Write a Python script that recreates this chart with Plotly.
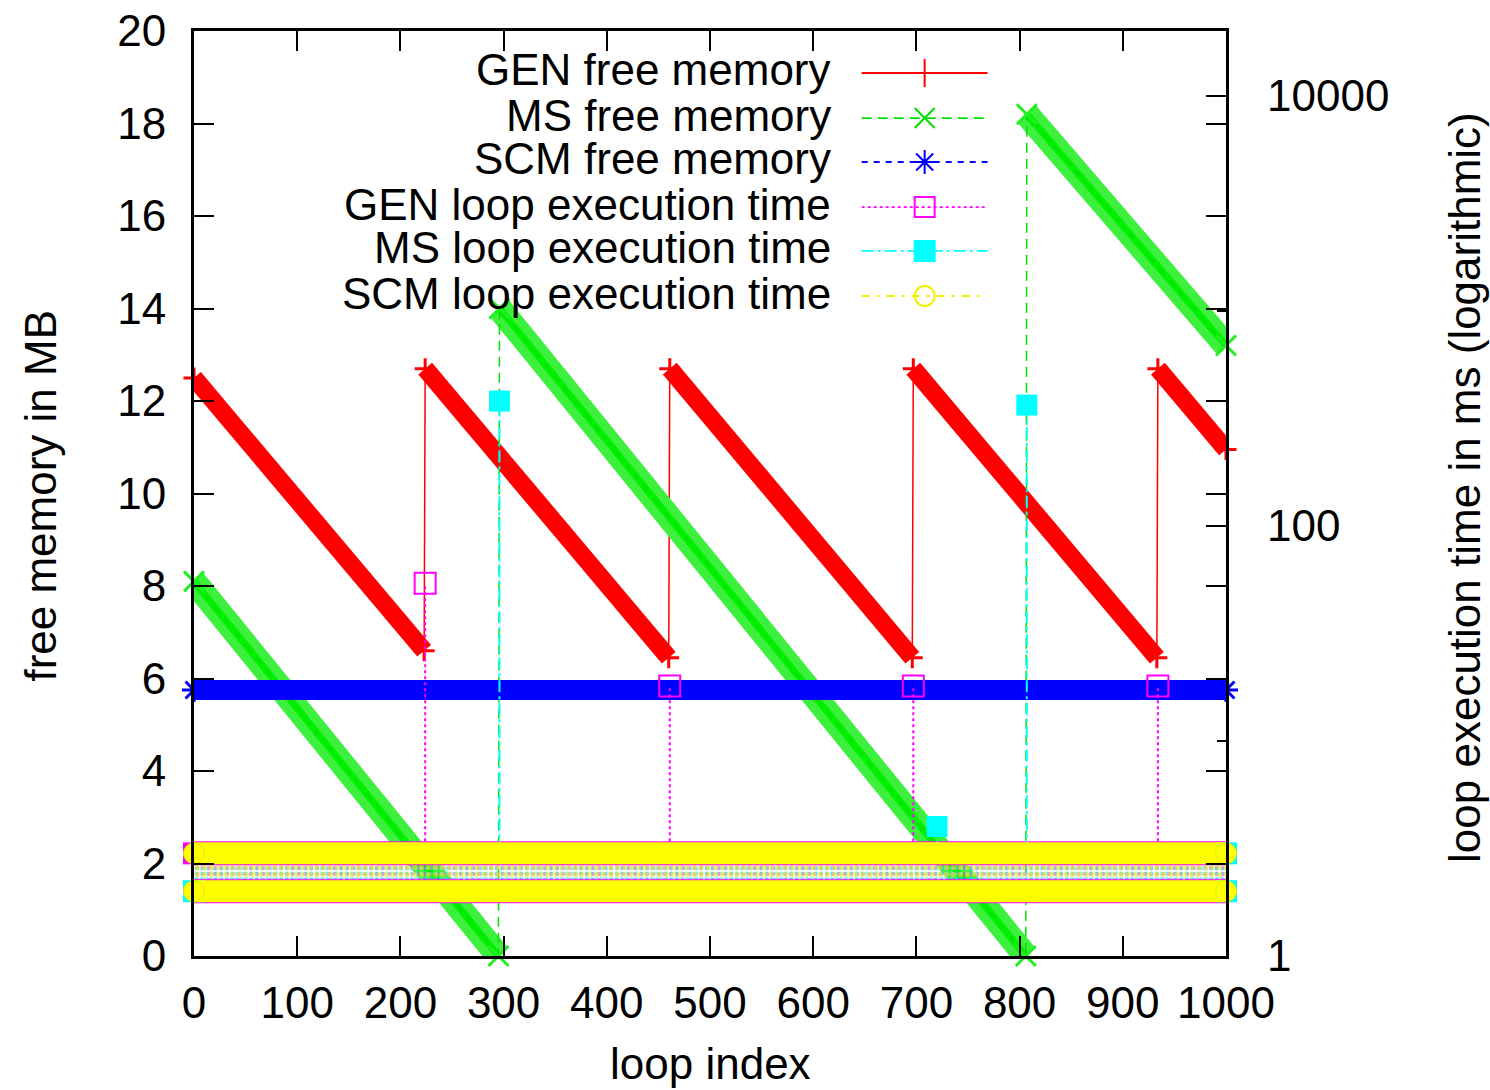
import plotly.graph_objects as go

# ---------------- data ----------------
loop_range = [0, 1000]

# free memory (MB): sawtooth segments given as (start, end) pairs
gen_mem_x = [0, 223, 224, 460, 461, 696, 697, 933, 934, 1000]
gen_mem_y = [12.5, 6.6, 12.7, 6.45, 12.7, 6.45, 12.7, 6.45, 12.7, 10.95]

ms_mem_x = [0, 295, 296, 806, 807, 1000]
ms_mem_y = [8.1, 0.0, 14.0, 0.0, 18.2, 13.2]

scm_mem_x = [0, 1000]
scm_mem_y = [5.75, 5.75]

# loop execution time (ms): baseline levels and spikes
time_levels = [3, 2]
gen_spike_x = [224, 461, 697, 934]
gen_spike_y = [54, 18, 18, 18]
ms_spike_x = [296, 720, 807]
ms_spike_y = [380, 4, 364]

legend_names = ["GEN free memory", "MS free memory", "SCM free memory",
                "GEN loop execution time", "MS loop execution time",
                "SCM loop execution time"]

x_ticks = [0, 100, 200, 300, 400, 500, 600, 700, 800, 900, 1000]
y_ticks = [0, 2, 4, 6, 8, 10, 12, 14, 16, 18, 20]
y2_major = [1, 100, 10000]
y2_minor = [10, 1000]

# ---------------- helpers ----------------
FONT = "Liberation Sans, Arial, Helvetica, sans-serif"
FS = 44
RED, GREEN, BLUE = "#ff0000", "#00ee00", "#0000ff"
MAG, CYAN, YEL = "#ff00ff", "#00ffff", "#ffff00"


def segments(xs, ys):
    """insert gaps between consecutive (start, end) pairs"""
    ox, oy = [], []
    for i in range(0, len(xs), 2):
        ox += [xs[i], xs[i + 1], None]
        oy += [ys[i], ys[i + 1], None]
    return ox, oy


def spikes(xs, ys, base):
    ox, oy = [], []
    for x, y in zip(xs, ys):
        ox += [x, x, None]
        oy += [base, y, None]
    return ox, oy


def levels(lv):
    ox, oy = [], []
    for v in lv:
        ox += [loop_range[0], loop_range[1], None]
        oy += [v, v, None]
    return ox, oy


fig = go.Figure()

# ---------- memory series (left axis) ----------
# GEN (red)
bx, by = segments(gen_mem_x, gen_mem_y)
fig.add_trace(go.Scatter(x=bx, y=by, mode="lines", line=dict(color=RED, width=18),
                         showlegend=False, hoverinfo="skip"))
fig.add_trace(go.Scatter(x=gen_mem_x, y=gen_mem_y, mode="lines+markers",
                         line=dict(color=RED, width=1.5),
                         marker=dict(symbol="cross-thin", size=15, line=dict(color=RED, width=3)),
                         cliponaxis=False, showlegend=False))
# MS (green)
bx, by = segments(ms_mem_x, ms_mem_y)
fig.add_trace(go.Scatter(x=bx, y=by, mode="lines", line=dict(color="#3df03d", width=25),
                         showlegend=False, hoverinfo="skip"))
fig.add_trace(go.Scatter(x=bx, y=by, mode="lines", line=dict(color="#00f000", width=7),
                         showlegend=False, hoverinfo="skip"))
fig.add_trace(go.Scatter(x=ms_mem_x, y=ms_mem_y, mode="lines+markers",
                         line=dict(color="#00e000", width=1.5, dash="10px,6px"),
                         marker=dict(symbol="x-thin", size=20, line=dict(color="#20f020", width=3)),
                         cliponaxis=False, showlegend=False))
# SCM (blue)
fig.add_trace(go.Scatter(x=scm_mem_x, y=scm_mem_y, mode="lines", line=dict(color=BLUE, width=20),
                         showlegend=False, hoverinfo="skip"))
fig.add_trace(go.Scatter(x=scm_mem_x, y=scm_mem_y, mode="markers",
                         marker=dict(symbol="asterisk", size=20, line=dict(color=BLUE, width=3)),
                         cliponaxis=False, showlegend=False))

# ---------- loop execution time (right, log axis) ----------
lx, ly = levels(time_levels)
poly_x = [loop_range[0], loop_range[1], loop_range[1], loop_range[0]]
poly_y = [time_levels[0], time_levels[0], time_levels[1], time_levels[1]]
for col, shape, size, sol in [(MAG, ".", 6, 0.45), (CYAN, ".", 5, 0.45), (YEL, ".", 7, 0.5)]:
    fig.add_trace(go.Scatter(x=poly_x, y=poly_y, yaxis="y2", mode="none", fill="toself",
                             fillcolor="rgba(0,0,0,0)",
                             fillpattern=dict(shape=shape, fgcolor=col, bgcolor="rgba(0,0,0,0)",
                                              size=size, solidity=sol, fillmode="overlay"),
                             showlegend=False, hoverinfo="skip"))
# GEN time
fig.add_trace(go.Scatter(x=lx, y=ly, yaxis="y2", mode="lines", line=dict(color=MAG, width=24),
                         showlegend=False, hoverinfo="skip"))
fig.add_trace(go.Scatter(x=[loop_range[0]], y=[time_levels[0]], yaxis="y2", mode="markers",
                         marker=dict(symbol="square", size=22, color=MAG),
                         cliponaxis=False, showlegend=False, hoverinfo="skip"))
sx, sy = spikes(gen_spike_x, gen_spike_y, time_levels[0])
fig.add_trace(go.Scatter(x=sx, y=sy, yaxis="y2", mode="lines",
                         line=dict(color=MAG, width=2, dash="3px,3px"), showlegend=False))
fig.add_trace(go.Scatter(x=gen_spike_x, y=gen_spike_y, yaxis="y2", mode="markers",
                         marker=dict(symbol="square-open", size=21, color=MAG,
                                     line=dict(color=MAG, width=2)),
                         cliponaxis=False, showlegend=False))
# MS time
fig.add_trace(go.Scatter(x=[loop_range[0], loop_range[1], loop_range[1]],
                         y=[time_levels[1], time_levels[0], time_levels[1]], yaxis="y2",
                         mode="markers", marker=dict(symbol="square", size=22, color=CYAN),
                         cliponaxis=False, showlegend=False, hoverinfo="skip"))
sx, sy = spikes(ms_spike_x, ms_spike_y, time_levels[0])
fig.add_trace(go.Scatter(x=sx, y=sy, yaxis="y2", mode="lines",
                         line=dict(color=CYAN, width=2, dash="12px,4px,3px,4px"), showlegend=False))
fig.add_trace(go.Scatter(x=ms_spike_x, y=ms_spike_y, yaxis="y2", mode="markers",
                         marker=dict(symbol="square", size=21, color=CYAN),
                         cliponaxis=False, showlegend=False))
# SCM time (yellow, on top)
fig.add_trace(go.Scatter(x=lx, y=ly, yaxis="y2", mode="lines", line=dict(color=YEL, width=22),
                         showlegend=False, hoverinfo="skip"))
fig.add_trace(go.Scatter(x=[loop_range[0], loop_range[0], loop_range[1], loop_range[1]],
                         y=time_levels + time_levels, yaxis="y2", mode="markers",
                         marker=dict(symbol="circle", size=21, color=YEL,
                                     line=dict(color="#e8e800", width=1)),
                         cliponaxis=False, showlegend=False, hoverinfo="skip"))

# ---------- custom gnuplot-style key (overlay axes x3/y3, range 0..1) ----------
row_y = [0.9546, 0.9059, 0.8584, 0.8097, 0.7622, 0.7135]
key_styles = [
    dict(color=RED, dash="solid", sym="cross-thin", size=20),
    dict(color="#00e000", dash="10px,6px", sym="x-thin", size=20),
    dict(color=BLUE, dash="6px,6px", sym="asterisk", size=20),
    dict(color=MAG, dash="3px,3px", sym="square-open", size=20),
    dict(color=CYAN, dash="12px,4px,3px,4px", sym="square", size=20),
    dict(color="#f0f000", dash="8px,7px,3px,7px", sym="circle-open", size=20),
]
kx0, kxm, kx1 = 0.647, 0.708, 0.769
for name, yy, st in zip(legend_names, row_y, key_styles):
    fig.add_trace(go.Scatter(x=[kx0, kx1], y=[yy, yy], xaxis="x3", yaxis="y3", mode="lines",
                             line=dict(color=st["color"], width=1.8, dash=st["dash"]),
                             showlegend=False, hoverinfo="skip"))
    mk = dict(symbol=st["sym"], size=st["size"], color=st["color"],
              line=dict(color=st["color"], width=2))
    fig.add_trace(go.Scatter(x=[kxm], y=[yy], xaxis="x3", yaxis="y3", mode="markers",
                             marker=mk, showlegend=False, hoverinfo="skip"))
    fig.add_annotation(x=0.619, y=yy, xref="paper", yref="paper", text=name, showarrow=False,
                       xanchor="right", yanchor="middle", yshift=3,
                       font=dict(family=FONT, size=FS, color="black"))

# ---------- axis titles ----------
fig.add_annotation(x=0.5, y=-0.1157, xref="paper", yref="paper", text="loop index",
                   showarrow=False, xanchor="center", yanchor="middle",
                   font=dict(family=FONT, size=FS, color="black"))
fig.add_annotation(x=-0.149, y=0.498, xref="paper", yref="paper", text="free memory in MB",
                   showarrow=False, textangle=-90, xanchor="center", yanchor="middle",
                   font=dict(family=FONT, size=FS, color="black"))
fig.add_annotation(x=1.2316, y=0.506, xref="paper", yref="paper",
                   text="loop execution time in ms (logarithmic)",
                   showarrow=False, textangle=-90, xanchor="center", yanchor="middle",
                   font=dict(family=FONT, size=FS, color="black"))

axis_common = dict(showgrid=False, zeroline=False, ticks="inside", ticklen=20, tickwidth=2,
                   tickcolor="black", linecolor="black", linewidth=3,
                   ticklabeloverflow="allow", automargin=False,
                   tickfont=dict(family=FONT, size=FS, color="black"))

fig.update_layout(
    width=1490, height=1090,
    margin=dict(l=194, r=264, t=31, b=134, autoexpand=False),
    paper_bgcolor="white", plot_bgcolor="white",
    showlegend=False,
    xaxis=dict(range=loop_range, tickvals=x_ticks, mirror="ticks", showline=True,
               ticklabelstandoff=6, **axis_common),
    yaxis=dict(range=[0, 20], tickvals=y_ticks, mirror="ticks", showline=True,
               ticklabelstandoff=16, **axis_common),
    yaxis2=dict(type="log", range=[0, 4.300], overlaying="y", side="right", anchor="x",
                tickvals=y2_major, ticktext=[str(v) for v in y2_major], showline=False,
                ticklabelstandoff=40,
                minor=dict(tickmode="array", tickvals=y2_minor, ticks="inside", ticklen=9,
                           tickwidth=2, tickcolor="black", showgrid=False),
                **axis_common),
    xaxis3=dict(range=[0, 1], overlaying="x", anchor="y3", visible=False, fixedrange=True,
                automargin=False),
    yaxis3=dict(range=[0, 1], overlaying="y", anchor="x3", visible=False, fixedrange=True,
                automargin=False),
)

# remove the browser's default 8px page margin so the figure fills the window exactly
fig.write_html("out.html", config={"displayModeBar": False},
               post_script="document.body.style.margin='0';document.body.style.overflow='hidden';")
